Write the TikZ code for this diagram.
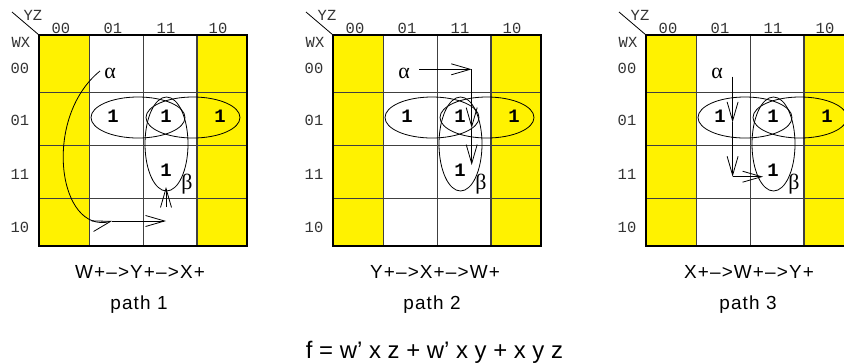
\documentclass[tikz,border=0pt]{standalone}
\usepackage{fontspec}
\setmainfont{Liberation Sans}
\newfontfamily\kmono{Liberation Mono}
\newfontfamily\kgreek{Liberation Serif}
\usetikzlibrary{arrows.meta,calc}
\tikzset{
  gridline/.style={draw=black!75, line width=0.9bp},
  border/.style={draw=black, line width=1.2bp},
  lbl/.style={font=\kmono\fontsize{15.5}{15.5}\selectfont, text=black!80, inner sep=0},
  one/.style={font=\kmono\bfseries\fontsize{19}{19}\selectfont, inner sep=0},
  greek/.style={font=\kgreek\fontsize{22}{22}\selectfont, inner sep=0},
  loopline/.style={draw=black, line width=0.8bp},
  barb/.style={-{Straight Barb[length=19bp,width=11bp,line width=0.8bp]}, line width=0.8bp},
  caption/.style={font=\fontsize{19}{19}\selectfont\addfontfeature{LetterSpace=6}, inner sep=0, anchor=base},
  formula/.style={font=\fontsize{24}{24}\selectfont, inner sep=0, anchor=base},
}
\newcommand\kmapgrid[2]{%
\begin{scope}[shift={(#1,35)}]
  \fill[yellow] (0,0) rectangle (50,211);
  \fill[yellow] (158.5,0) rectangle (208,211);
  \draw[gridline] (50,0) -- (50,211);
  \draw[gridline] (104,0) -- (104,211);
  \draw[gridline] (157,0) -- (157,211);
  \draw[gridline] (158.5,0) -- (158.5,211);
  \draw[gridline] (0,57) -- (208,57);
  \draw[gridline] (0,110) -- (208,110);
  \draw[gridline] (0,163) -- (208,163);
  \draw[border] (0,0) rectangle (208,211);
  \coordinate (#2corner) at (0,0);
  \coordinate (#2diag) at (-27,-23);
  \draw[line width=0.8bp] (#2diag) -- (#2corner);
  \node[lbl] (#2yz) at (-6,-20) {YZ};
  \node[lbl] (#2wx) at (-18,7) {WX};
  \node[lbl] (#2c00) at (22,-7) {00};
  \node[lbl] (#2c01) at (74,-7) {01};
  \node[lbl] (#2c11) at (127,-7) {11};
  \node[lbl] (#2c10) at (179,-7) {10};
  \node[lbl] (#2r00) at (-19,33) {00};
  \node[lbl] (#2r01) at (-19,85) {01};
  \node[lbl] (#2r11) at (-19,139) {11};
  \node[lbl] (#2r10) at (-19,192) {10};
  \node[one] (#2oa) at (74,81) {1};
  \node[one] (#2ob) at (127,81) {1};
  \node[one] (#2oc) at (181,81) {1};
  \node[one] (#2od) at (127,135) {1};
  \draw[loopline] (99,82.5) ellipse [x radius=47, y radius=20.5];
  \draw[loopline] (154,82.5) ellipse [x radius=47, y radius=20.5];
  \draw[loopline] (127.5,109) ellipse [x radius=21.5, y radius=47];
  \node[greek] (#2alpha) at (71,38) {α};
  \node[greek] (#2beta) at (148,149) {β};
\end{scope}}
\begin{document}
\begin{tikzpicture}[x=1bp,y=-1bp]
  \clip (0,0) rectangle (844,362);
  \fill[white] (0,0) rectangle (844,362);
  \kmapgrid{39}{m1}
  \kmapgrid{333}{m2}
  \kmapgrid{646}{m3}
  % path 1
  \begin{scope}[shift={(39,35)}]
    \coordinate (p1s) at (61,36);
    \coordinate (p1a) at (73,186);
    \coordinate (p1b) at (127,186);
    \coordinate (p1c) at (127,172);
    \coordinate (p1d) at (127,152);
  \end{scope}
  \draw[barb] (p1s) .. controls ($(p1s)+(-58,47)$) and ($(p1a)+(-54,14)$) .. (p1a);
  \draw[barb] (p1a) -- (p1b);
  \draw[barb] (p1c) -- (p1d);
  % path 2
  \begin{scope}[shift={(333,35)}]
    \coordinate (p2s) at (86.3,34.3);
    \coordinate (p2a) at (138.7,34.3);
    \coordinate (p2b) at (138.7,93);
    \coordinate (p2c) at (138.7,130);
  \end{scope}
  \draw[barb] (p2s) -- (p2a);
  \draw[barb] (p2a) -- (p2b);
  \draw[barb] (p2b) -- (p2c);
  % path 3
  \begin{scope}[shift={(646,35)}]
    \coordinate (p3s) at (86.6,41.7);
    \coordinate (p3a) at (86.6,87.3);
    \coordinate (p3b) at (86.6,141.7);
    \coordinate (p3c) at (117,141.7);
  \end{scope}
  \draw[barb] (p3s) -- (p3a);
  \draw[barb] (p3a) -- (p3b);
  \draw[barb] (p3b) -- (p3c);
  % captions
  \node[caption] (t1) at (140,278) {W+–>Y+–>X+};
  \node[caption] (u1) at (139,309) {path 1};
  \node[caption] (t2) at (435,278) {Y+–>X+–>W+};
  \node[caption] (u2) at (432,309) {path 2};
  \node[caption] (t3) at (749,278) {X+–>W+–>Y+};
  \node[caption] (u3) at (748,309) {path 3};
  \node[formula] (f) at (434.5,358) {f = w’ x z + w’ x y + x y z};
\end{tikzpicture}
\end{document}
